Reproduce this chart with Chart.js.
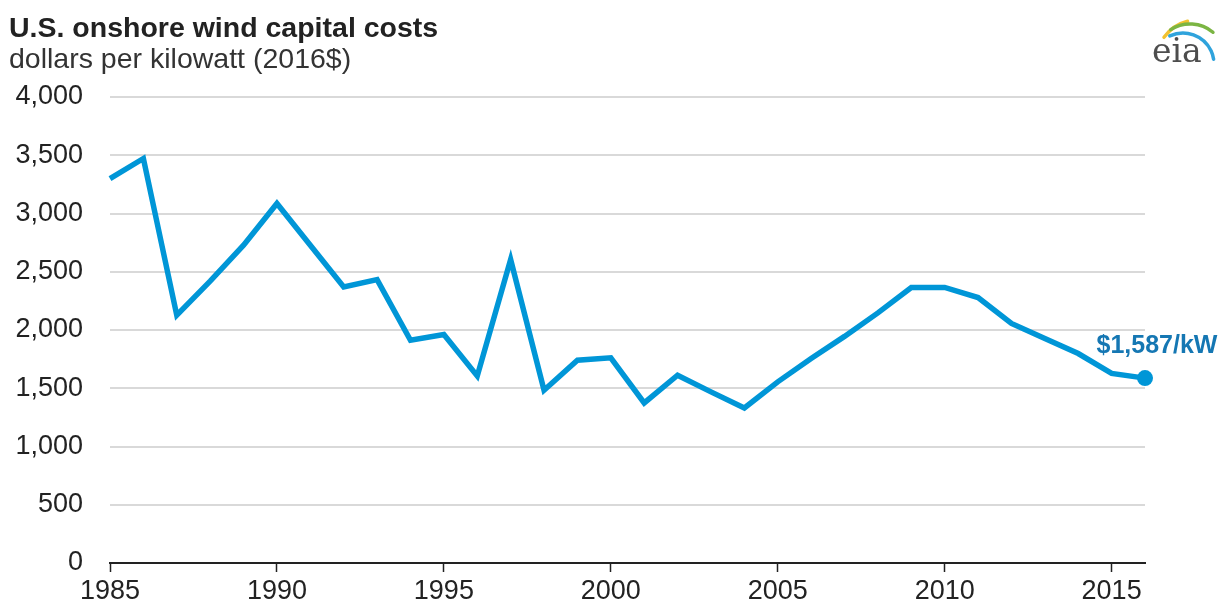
<!DOCTYPE html>
<html>
<head>
<meta charset="utf-8">
<script src="https://cdn.jsdelivr.net/npm/chart.js@4"></script>
<style>
  body { margin: 0; background: #fff; }
  #wrap { position: relative; width: 1226px; height: 609px; }
  .title { position: absolute; left: 9px; top: 11px; line-height: 1; font: bold 28.5px "Liberation Sans", Arial, sans-serif; color: #222; }
  .subtitle { position: absolute; left: 9px; top: 42px; line-height: 1; font: 28.5px "Liberation Sans", Arial, sans-serif; color: #333; }
</style>
</head>
<body>
<div id="wrap">
  <canvas id="myChart" width="1226" height="609"></canvas>
  <div class="title">U.S. onshore wind capital costs</div>
  <div class="subtitle">dollars per kilowatt (2016$)</div>
</div>
<script>
// wind capital cost per year, dollars per kW
let years = [1985, 1986, 1987, 1988, 1989, 1990, 1991, 1992, 1993, 1994, 1995, 1996, 1997, 1998, 1999, 2000,
  2001, 2002, 2003, 2004, 2005, 2006, 2007, 2008, 2009, 2010, 2011, 2012, 2013, 2014, 2015, 2016];
let costs = [3300, 3472, 2127, 2420, 2728, 3086, 2728, 2370, 2433, 1912, 1961, 1606, 2605, 1483, 1741, 1761,
  1374, 1612, 1469, 1331, 1555, 1755, 1945, 2147, 2365, 2365, 2279, 2056, 1927, 1798, 1627, 1587];
let yearTicks = [1985, 1990, 1995, 2000, 2005, 2010, 2015];
let costTicks = [0, 500, 1000, 1500, 2000, 2500, 3000, 3500, 4000];

let blue = '#0096d7';
let font = "'Liberation Sans', Arial, sans-serif";

let points = years.map((y, i) => ({ x: y, y: costs[i] }));
let last = points.length - 1;

// label over the last point + eia logo
let extras = {
  id: 'extras',
  afterDatasetsDraw(chart) {
    let ctx = chart.ctx;
    let pt = chart.getDatasetMeta(0).data[last];
    ctx.save();
    ctx.fillStyle = '#1577b3';
    ctx.font = 'bold 25px ' + font;
    ctx.textAlign = 'center';
    ctx.textBaseline = 'alphabetic';
    ctx.fillText('$' + costs[last].toLocaleString('en-US') + '/kW', pt.x + 12, pt.y - 25);

    // logo
    ctx.lineCap = 'round';
    ctx.lineWidth = 3.5;
    ctx.strokeStyle = '#f2c230';
    ctx.beginPath();
    ctx.arc(1198, 62, 42, Math.PI * 1.2, Math.PI * 1.42);
    ctx.stroke();
    ctx.strokeStyle = '#7bb543';
    ctx.beginPath();
    ctx.arc(1190, 60, 36, Math.PI * 1.32, Math.PI * 1.72);
    ctx.stroke();
    ctx.strokeStyle = '#2fa3dc';
    ctx.beginPath();
    ctx.arc(1183, 64, 31, Math.PI * 1.36, Math.PI * 1.95);
    ctx.stroke();
    ctx.fillStyle = '#4d4d4d';
    ctx.font = '33px "DejaVu Serif", serif';
    ctx.textAlign = 'left';
    ctx.fillText('eia', 1152, 62);
    ctx.restore();
  }
};

let ctx = document.getElementById('myChart').getContext('2d');
new Chart(ctx, {
  type: 'line',
  data: {
    datasets: [{
      data: points,
      borderColor: blue,
      backgroundColor: blue,
      borderWidth: 5.5,
      tension: 0,
      clip: false,
      borderJoinStyle: 'miter',
      pointRadius: points.map((p, i) => i === last ? 8 : 0),
      pointBorderWidth: 0,
      pointBackgroundColor: blue
    }]
  },
  options: {
    responsive: false,
    animation: false,
    layout: { padding: { top: 97, right: 81, bottom: 0, left: 0 } },
    plugins: { legend: { display: false }, tooltip: { enabled: false } },
    scales: {
      x: {
        type: 'linear',
        min: years[0],
        max: years[last],
        afterBuildTicks(axis) {
          axis.ticks = yearTicks.map(v => ({ value: v }));
        },
        afterFit(axis) { axis.height = 46; },
        ticks: {
          autoSkip: false,
          maxRotation: 0,
          padding: 3,
          color: '#222',
          font: { family: font, size: 27 },
          callback: v => String(v)
        },
        grid: { drawOnChartArea: false, color: '#222', tickLength: 9, tickWidth: 1.5 },
        border: { color: '#222', width: 2 }
      },
      y: {
        min: 0,
        max: 4000,
        afterBuildTicks(axis) {
          axis.ticks = costTicks.map(v => ({ value: v }));
        },
        afterFit(axis) { axis.width = 110; },
        ticks: {
          padding: 27,
          color: '#222',
          font: { family: font, size: 27 },
          callback: v => v.toLocaleString('en-US')
        },
        grid: { color: '#d9d9d9', lineWidth: 2, drawTicks: false },
        border: { display: false }
      }
    }
  },
  plugins: [extras]
});
</script>
</body>
</html>
